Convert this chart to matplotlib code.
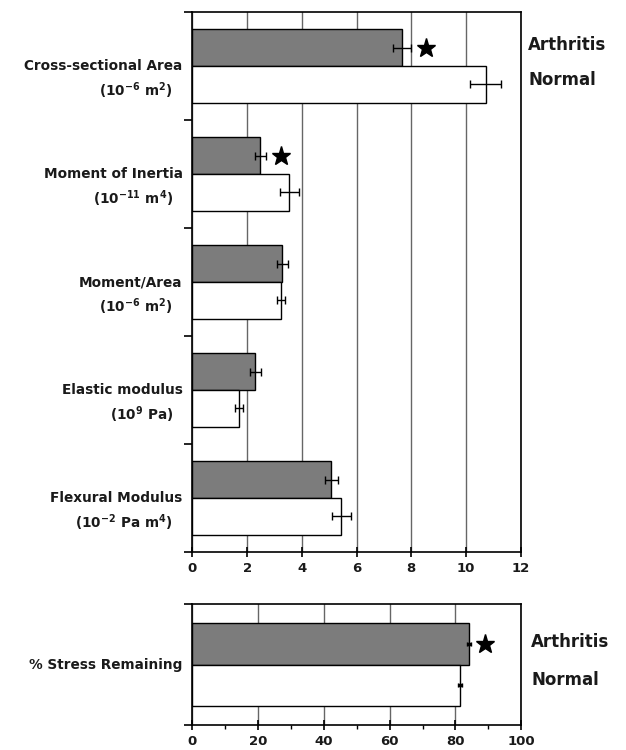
import numpy as np
import matplotlib

matplotlib.use("AGG")
from matplotlib import pyplot
from matplotlib.ticker import MultipleLocator

pyplot.rcParams["font.family"] = ["DejaVu Sans"]
pyplot.rcParams["mathtext.default"] = "regular"

# bone properties, top panel (group order top to bottom)
categories = ["Cross-sectional Area", "Moment of Inertia", "Moment/Area",
              "Elastic modulus", "Flexural Modulus"]
units = [r"(10$^{-6}$ m$^2$)", r"(10$^{-11}$ m$^4$)", r"(10$^{-6}$ m$^2$)",
         r"(10$^{9}$ Pa)", r"(10$^{-2}$ Pa m$^4$)"]
arthritis = [7.65, 2.48, 3.28, 2.30, 5.07]
arthritis_err = [0.33, 0.20, 0.20, 0.20, 0.24]
normal = [10.72, 3.54, 3.25, 1.71, 5.45]
normal_err = [0.57, 0.34, 0.15, 0.14, 0.34]
significant = [True, True, False, False, False]
top_ticks = [0, 2, 4, 6, 8, 10, 12]

# stress relaxation, bottom panel
stress_label = "% Stress Remaining"
stress_arthritis = 84.1
stress_arthritis_err = 0.6
stress_normal = 81.3
stress_normal_err = 0.6
stress_significant = True
bottom_ticks = [0, 20, 40, 60, 80, 100]

DARK = "#7c7c7c"
TXT = "#1a1a1a"
BAR_H = 0.34
LABEL_FS = 9.8


def style_axes(ax):
    for s in ax.spines.values():
        s.set_linewidth(1.2)
        s.set_color("black")
    ax.set_axisbelow(True)
    ax.grid(axis="x", color="0.4", linewidth=1.0)
    ax.tick_params(axis="x", direction="inout", length=7, width=1.2,
                   labelsize=9.5, pad=4, labelcolor=TXT)
    ax.tick_params(axis="y", direction="out", length=6, width=1.2,
                   labelleft=False)
    for lab in ax.get_xticklabels():
        lab.set_fontweight("bold")


fig = pyplot.figure(figsize=(6.26, 7.5), dpi=100)

# ---- top panel
ax = fig.add_axes([0.3075, 0.264, 0.524, 0.72])
y = np.arange(len(categories))
ax.barh(y - BAR_H / 2, arthritis, height=BAR_H, color=DARK,
        edgecolor="black", linewidth=1.0, zorder=2)
ax.barh(y + BAR_H / 2, normal, height=BAR_H, color="white",
        edgecolor="black", linewidth=1.0, zorder=2)
ax.errorbar(arthritis, y - BAR_H / 2, xerr=arthritis_err, fmt="none",
            ecolor="black", elinewidth=1.0, capsize=3, zorder=3)
ax.errorbar(normal, y + BAR_H / 2, xerr=normal_err, fmt="none",
            ecolor="black", elinewidth=1.0, capsize=3, zorder=3)
for i, sig in enumerate(significant):
    if sig:
        ax.plot(arthritis[i] + arthritis_err[i] + 0.57, y[i] - BAR_H / 2,
                marker="*", color="black", markersize=14, zorder=4)
ax.set_xlim(0, 12)
ax.set_ylim(len(categories) - 0.5, -0.5)
ax.set_xticks(top_ticks)
ax.set_xticklabels([str(t) for t in top_ticks])
ax.set_yticks(np.arange(len(categories) + 1) - 0.5)
style_axes(ax)

for i in range(len(categories)):
    ax.text(-0.03, i, categories[i], transform=ax.get_yaxis_transform(),
            ha="right", va="center", fontsize=LABEL_FS, fontweight="bold",
            color=TXT)
    ax.text(-0.06, i + 0.23, units[i], transform=ax.get_yaxis_transform(),
            ha="right", va="center", fontsize=LABEL_FS, fontweight="bold",
            color=TXT)

ax.text(1.024, -0.19, "Arthritis", transform=ax.get_yaxis_transform(),
        ha="left", va="center", fontsize=12, fontweight="bold", color=TXT)
ax.text(1.024, 0.13, "Normal", transform=ax.get_yaxis_transform(),
        ha="left", va="center", fontsize=12, fontweight="bold", color=TXT)

# ---- bottom panel
bx = fig.add_axes([0.3075, 0.0333, 0.525, 0.1613])
bx.barh(-BAR_H / 2, stress_arthritis, height=BAR_H, color=DARK,
        edgecolor="black", linewidth=1.0, zorder=2)
bx.barh(BAR_H / 2, stress_normal, height=BAR_H, color="white",
        edgecolor="black", linewidth=1.0, zorder=2)
bx.errorbar([stress_arthritis], [-BAR_H / 2], xerr=[stress_arthritis_err],
            fmt="none", ecolor="black", elinewidth=2.5, capsize=1.5, zorder=3)
bx.errorbar([stress_normal], [BAR_H / 2], xerr=[stress_normal_err],
            fmt="none", ecolor="black", elinewidth=2.5, capsize=1.5, zorder=3)
if stress_significant:
    bx.plot(stress_arthritis + stress_arthritis_err + 4.3, -BAR_H / 2,
            marker="*", color="black", markersize=14, zorder=4)
bx.set_xlim(0, 100)
bx.set_ylim(0.5, -0.5)
bx.set_xticks(bottom_ticks)
bx.set_xticklabels([str(t) for t in bottom_ticks])
bx.xaxis.set_minor_locator(MultipleLocator(10))
bx.tick_params(axis="x", which="minor", direction="out", length=3, width=1.0)
bx.set_yticks([-0.5, 0.5])
style_axes(bx)

bx.text(-0.03, 0, stress_label, transform=bx.get_yaxis_transform(),
        ha="right", va="center", fontsize=LABEL_FS, fontweight="bold",
        color=TXT)
bx.text(1.03, -0.19, "Arthritis", transform=bx.get_yaxis_transform(),
        ha="left", va="center", fontsize=12, fontweight="bold", color=TXT)
bx.text(1.03, 0.13, "Normal", transform=bx.get_yaxis_transform(),
        ha="left", va="center", fontsize=12, fontweight="bold", color=TXT)

fig.savefig("out.png", dpi=100)
pyplot.close(fig)
